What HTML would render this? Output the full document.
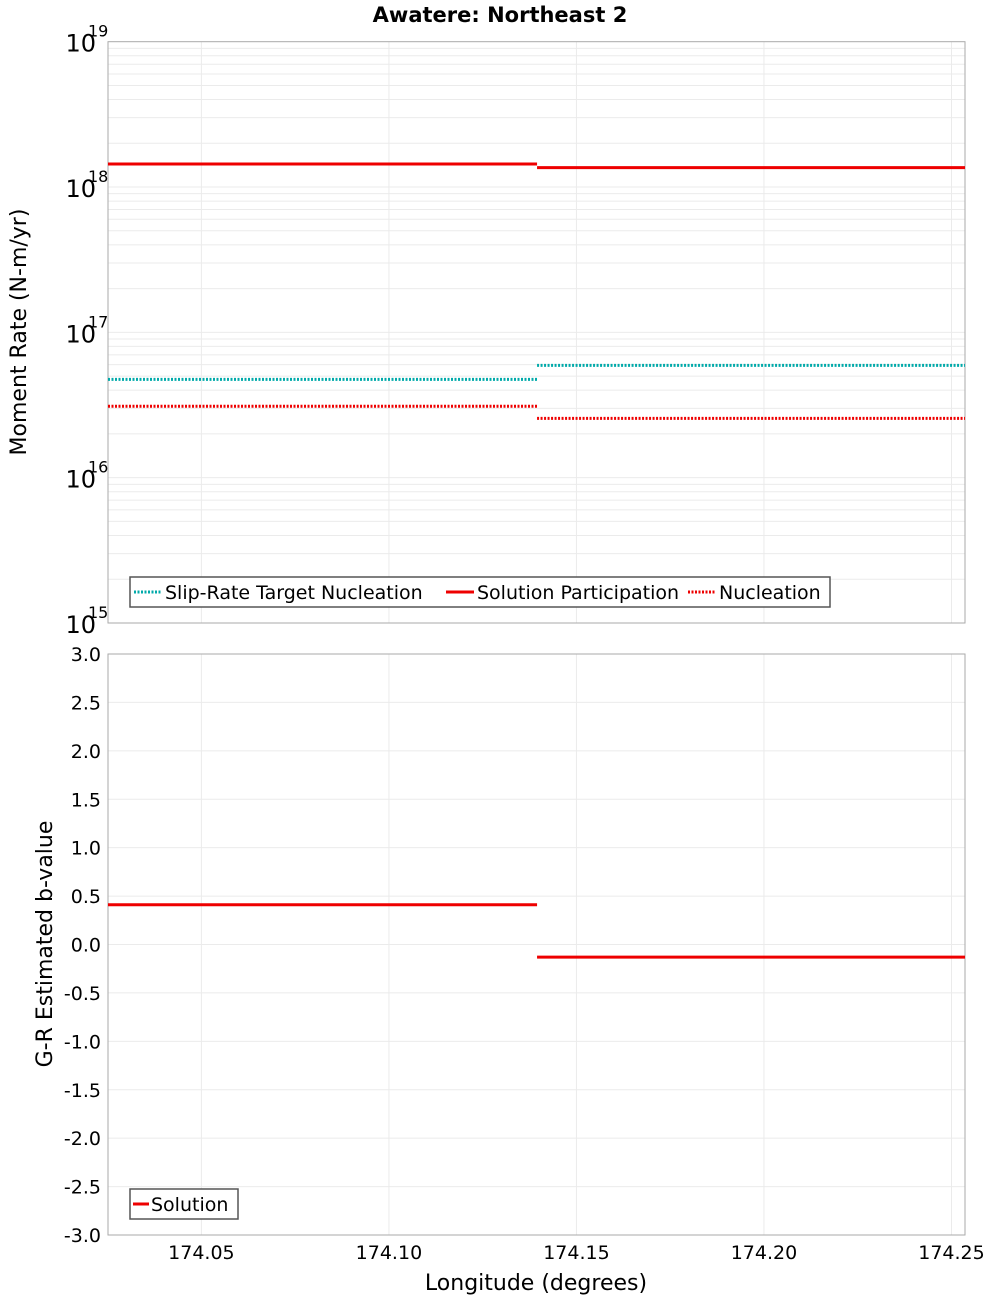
<!DOCTYPE html>
<html><head><meta charset="utf-8"><style>
body{margin:0;background:#fff;}
svg text{font-family:"DejaVu Sans","Liberation Sans",sans-serif;}
</style></head><body>
<svg id="chart" width="1000" height="1300" xmlns="http://www.w3.org/2000/svg">
<text x="500" y="22" text-anchor="middle" font-size="21" font-weight="bold">Awatere: Northeast 2</text>
<g id="topG"></g><g id="botG"></g>
<text transform="translate(26,332) rotate(-90)" text-anchor="middle" font-size="22">Moment Rate (N-m/yr)</text>
<text transform="translate(52,944) rotate(-90)" text-anchor="middle" font-size="22">G-R Estimated b-value</text>
<text x="536" y="1290" text-anchor="middle" font-size="22">Longitude (degrees)</text>
</svg>
<script>
const xTicks=[174.05,174.10,174.15,174.20,174.25];
const xTickLabels=["174.05","174.10","174.15","174.20","174.25"];
const segEdges=[174.0251,174.1395,174.2536];
const slipTarget=[4.75e16,5.93e16];
const solutionPart=[1.44e18,1.36e18];
const nucleation=[3.1e16,2.56e16];
const bValue=[0.41,-0.13];
const bTicks=[3,2.5,2,1.5,1,0.5,0,-0.5,-1,-1.5,-2,-2.5,-3];
const bTickLabels=["3.0","2.5","2.0","1.5","1.0","0.5","0.0","-0.5","-1.0","-1.5","-2.0","-2.5","-3.0"];
const decades=[15,16,17,18,19];

const NS="http://www.w3.org/2000/svg";
const L=108,R=965,T1=41.7,B1=623,T2=654,B2=1235;
const xMin=174.0251,xMax=174.2536;
const X=v=>L+(v-xMin)/(xMax-xMin)*(R-L);
const Yl=v=>B1-(Math.log10(v)-15)/4*(B1-T1);
const Yb=v=>B2-(v+3)/6*(B2-T2);
function mk(parent,tag,attrs,txt){const e=document.createElementNS(NS,tag);for(const k in attrs)e.setAttribute(k,attrs[k]);if(txt!==undefined)e.textContent=txt;parent.appendChild(e);return e;}
const topG=document.getElementById('topG'),botG=document.getElementById('botG');

for(let d=15;d<19;d++){for(let m=1;m<10;m++){const y=Yl(m*Math.pow(10,d));
 const g=mk(topG,'line',{x1:L,x2:R,y1:y,y2:y,stroke:'#ebebeb','stroke-width':1});
 
 }}
xTicks.forEach(t=>{[topG,botG].forEach((p,i)=>{const g=mk(p,'line',{x1:X(t),x2:X(t),y1:i?T2:T1,y2:i?B2:B1,stroke:'#ebebeb','stroke-width':1});
 
 });});
bTicks.forEach(t=>{const g=mk(botG,'line',{x1:L,x2:R,y1:Yb(t),y2:Yb(t),stroke:'#ebebeb','stroke-width':1});
 
 });

let f=mk(topG,'rect',{x:L,y:T1,width:R-L,height:B1-T1,fill:'none',stroke:'#aaa'});


f=mk(botG,'rect',{x:L,y:T2,width:R-L,height:B2-T2,fill:'none',stroke:'#aaa'});



decades.forEach(d=>{const y=Yl(Math.pow(10,d));
 const t=mk(topG,'text',{x:96,y:y+10,'text-anchor':'end','font-size':24},'10');
 
 
 const s=mk(topG,'text',{x:88,y:y-5,'font-size':16},String(d));
 
 });
bTicks.forEach((v,i)=>{const t=mk(botG,'text',{x:101,y:Yb(v)+7,'text-anchor':'end','font-size':19},bTickLabels[i]);
 
 });
xTicks.forEach((v,i)=>{const t=mk(botG,'text',{x:X(v),y:1259,'text-anchor':'middle','font-size':19},xTickLabels[i]);
 
 });

function steps(parent,vals,yf,color,dash,name){
 vals.forEach((v,i)=>{const a={x1:X(segEdges[i]),x2:X(segEdges[i+1]),y1:yf(v),y2:yf(v),stroke:color,'stroke-width':3};
  if(dash)a['stroke-dasharray']='2,1.5';
  const l=mk(parent,'line',a);
  
  });
}
steps(topG,slipTarget,Yl,'#00aaaa',true,'slip-rate-target');
steps(topG,nucleation,Yl,'#ee0000',true,'nucleation');
steps(topG,solutionPart,Yl,'#ee0000',false,'solution-participation');
steps(botG,bValue,Yb,'#ee0000',false,'b-value-solution');

let lg=mk(topG,'g',{});


mk(lg,'rect',{x:130,y:577,width:700,height:30,fill:'#fff',stroke:'#555','stroke-width':1.5});
const items=[["Slip-Rate Target Nucleation",'#00aaaa',true,134],["Solution Participation",'#ee0000',false,446],["Nucleation",'#ee0000',true,688]];
items.forEach(it=>{const e=mk(lg,'line',{x1:it[3],x2:it[3]+28,y1:592,y2:592,stroke:it[1],'stroke-width':3});
 if(it[2])e.setAttribute('stroke-dasharray','2,1.5');
 
 
 const t=mk(lg,'text',{x:it[3]+31,y:599,'font-size':19},it[0]);
 
 });
lg=mk(botG,'g',{});


mk(lg,'rect',{x:130,y:1189,width:108,height:30,fill:'#fff',stroke:'#555','stroke-width':1.5});
let e=mk(lg,'line',{x1:133,x2:149,y1:1204,y2:1204,stroke:'#ee0000','stroke-width':3});


e=mk(lg,'text',{x:151,y:1211,'font-size':19},'Solution');


</script>
</body></html>
